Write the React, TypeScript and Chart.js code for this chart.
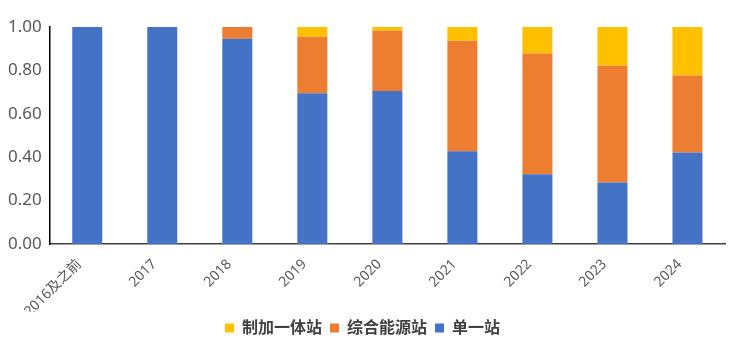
import React, { useEffect, useRef } from "react";
import { Chart, registerables } from "chart.js";

Chart.register(...registerables);

const categories = ["2016及之前", "2017", "2018", "2019", "2020", "2021", "2022", "2023", "2024"];
const singleStation = [1.0, 1.0, 0.946, 0.695, 0.705, 0.427, 0.322, 0.283, 0.422];
const integratedEnergy = [0, 0, 0.054, 0.26, 0.278, 0.51, 0.556, 0.539, 0.355];
const productionRefuel = [0, 0, 0, 0.045, 0.017, 0.063, 0.122, 0.178, 0.223];
const yTicks = [0, 0.2, 0.4, 0.6, 0.8, 1.0];

const FONT = "'Noto Sans', 'Noto Sans CJK SC', sans-serif";

export default function App() {
  const ref = useRef<HTMLCanvasElement | null>(null);

  useEffect(() => {
    if (!ref.current) return;
    const chart = new Chart(ref.current, {
      type: "bar",
      data: {
        labels: categories,
        datasets: [
          { label: "单一站", data: singleStation, backgroundColor: "#4472C4" },
          { label: "综合能源站", data: integratedEnergy, backgroundColor: "#ED7D31" },
          { label: "制加一体站", data: productionRefuel, backgroundColor: "#FFC000" },
        ],
      },
      options: {
        animation: false,
        responsive: false,
        maintainAspectRatio: false,
        layout: { padding: { top: 27, left: 0, right: 8, bottom: 6 } },
        datasets: { bar: { barPercentage: 0.4, categoryPercentage: 1.0 } },
        plugins: {
          legend: {
            position: "bottom",
            reverse: true,
            labels: {
              boxWidth: 9,
              boxHeight: 9,
              padding: 8,
              color: "#404040",
              font: { family: FONT, size: 16, weight: "bold" },
            },
          },
          tooltip: { enabled: false },
        },
        scales: {
          x: {
            stacked: true,
            grid: { display: false, drawTicks: false },
            border: { display: true, color: "#404040", width: 1.5 },
            ticks: {
              minRotation: 45,
              maxRotation: 45,
              padding: 12,
              labelOffset: -8,
              color: "#595959",
              font: { family: FONT, size: 14 },
            },
            afterFit: (scale: any) => {
              scale.height = 68;
            },
          },
          y: {
            stacked: true,
            min: 0,
            max: 1,
            grid: { display: false, drawTicks: false },
            border: { display: true, color: "#000000", width: 1.5 },
            afterBuildTicks: (scale: any) => {
              scale.ticks = yTicks.map((v) => ({ value: v }));
            },
            ticks: {
              padding: 8,
              color: "#595959",
              font: { family: FONT, size: 17 },
              callback: (v: any) => Number(v).toFixed(2),
            },
          },
        },
      },
    });
    return () => chart.destroy();
  }, []);

  return (
    <div style={{ position: "fixed", left: 0, top: 0, width: 733, height: 352, background: "#fff" }}>
      <canvas ref={ref} width={733} height={352} style={{ width: 733, height: 352 }} />
    </div>
  );
}
